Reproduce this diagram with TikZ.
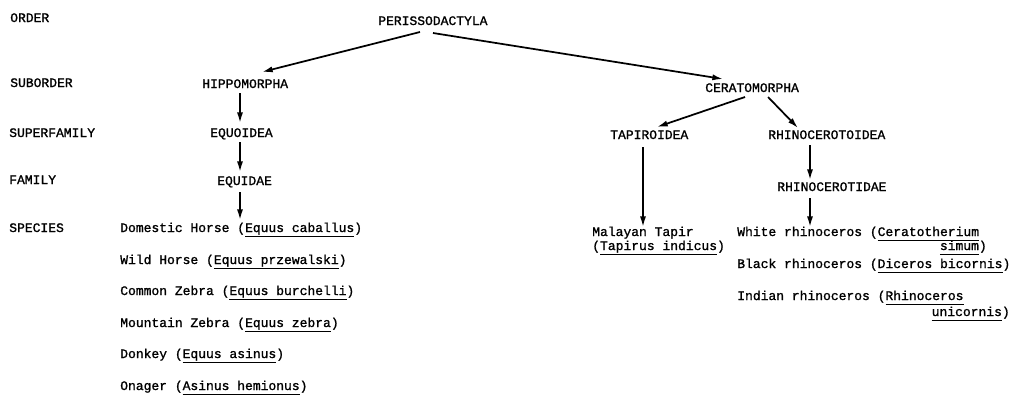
\documentclass[tikz,border=0pt]{standalone}
\usepackage{fontspec}
\newfontfamily\tw{Liberation Mono}[RawFeature={embolden=1.2}]
\usetikzlibrary{arrows.meta,calc}
\newcommand{\sci}[1]{\underline{#1\vphantom{q}}}
\begin{document}
\begin{tikzpicture}[x=0.75pt,y=-0.75pt,
  lbl/.style={inner sep=0pt,anchor=base west,font=\tw\fontsize{9.75pt}{11pt}\selectfont},
  lble/.style={lbl,anchor=base east},
  arr/.style={line width=1.3pt,-{Latex[length=8pt,width=4.6pt]}}]
\useasboundingbox (0,0) rectangle (1012,394);
% rank labels
\node[lbl] (rOrder) at (10,22) {ORDER};
\node[lbl] (rSub) at (10,87) {SUBORDER};
\node[lbl] (rSuper) at (9,137) {SUPERFAMILY};
\node[lbl] (rFam) at (9,184) {FAMILY};
\node[lbl] (rSpec) at (9,232) {SPECIES};
% taxa
\node[lbl] (per) at (378,25) {PERISSODACTYLA};
\node[lbl] (hip) at (202,88) {HIPPOMORPHA};
\node[lbl] (equo) at (210,137) {EQUOIDEA};
\node[lbl] (equid) at (217,185) {EQUIDAE};
\node[lbl] (cer) at (705,92) {CERATOMORPHA};
\node[lbl] (tap) at (610,139) {TAPIROIDEA};
\node[lbl] (rhoid) at (768,139) {RHINOCEROTOIDEA};
\node[lbl] (rhid) at (777,191) {RHINOCEROTIDAE};
% species, horses
\node[lbl] (s1) at (120,232) {Domestic Horse (\sci{Equus caballus})};
\node[lbl] (s2) at (120,264) {Wild Horse (\sci{Equus przewalski})};
\node[lbl] (s3) at (120,295) {Common Zebra (\sci{Equus burchelli})};
\node[lbl] (s4) at (120,327) {Mountain Zebra (\sci{Equus zebra})};
\node[lbl] (s5) at (120,358) {Donkey (\sci{Equus asinus})};
\node[lbl] (s6) at (120,390) {Onager (\sci{Asinus hemionus})};
% tapir
\node[lbl] (t1) at (592,236) {Malayan Tapir};
\node[lbl] (t1b) at (592,250) {(\sci{Tapirus indicus})};
% rhinos
\node[lbl] (w1) at (737,236) {White rhinoceros (\sci{Ceratotherium}};
\node[lble] (w1b) at (987,250) {\sci{simum})};
\node[lbl] (b1) at (737,268) {Black rhinoceros (\sci{Diceros bicornis})};
\node[lbl] (i1) at (737,300) {Indian rhinoceros (\sci{Rhinoceros}};
\node[lble] (i1b) at (1010,316) {\sci{unicornis})};
% connectors
\draw[arr] ($(per.base west)+(42,7)$) -- ($(hip.base west)+(60,-16)$);
\draw[arr] ($(per.base west)+(55,8)$) -- ($(cer.base west)+(18,-13)$);
\draw[arr] ($(hip.base west)+(38,5)$) -- ($(equo.base west)+(30,-14)$);
\draw[arr] ($(equo.base west)+(30,5)$) -- ($(equid.base west)+(23,-13)$);
\draw[arr] ($(equid.base west)+(23,7)$) -- ($(s1.base west)+(120,-12)$);
\draw[arr] ($(cer.base west)+(40,5)$) -- ($(tap.base west)+(47,-12)$);
\draw[arr] ($(cer.base west)+(63,5)$) -- ($(rhoid.base west)+(30,-11)$);
\draw[arr] ($(tap.base west)+(33,8)$) -- ($(t1.base west)+(51,-9)$);
\draw[arr] ($(rhoid.base west)+(42,6)$) -- ($(rhid.base west)+(33,-11)$);
\draw[arr] ($(rhid.base west)+(33,7)$) -- ($(w1.base west)+(73,-9)$);
\end{tikzpicture}
\end{document}
